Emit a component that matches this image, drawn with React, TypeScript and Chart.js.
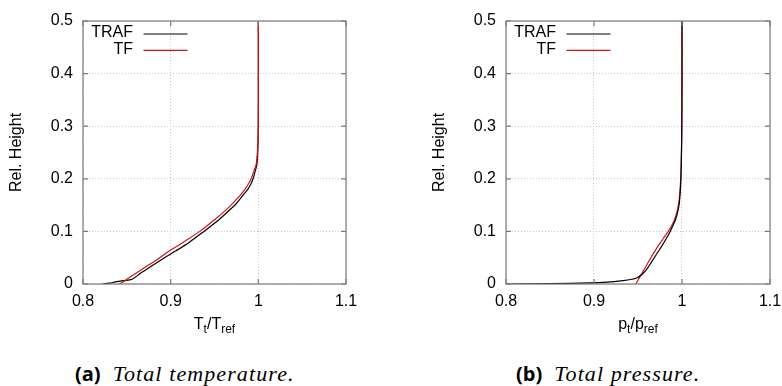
import React, { useEffect, useRef } from 'react';
import { Chart, registerables } from 'chart.js';

Chart.register(...registerables);

// ---------- data ----------
const xTicks = [0.8, 0.9, 1.0, 1.1];
const yTicks = [0, 0.1, 0.2, 0.3, 0.4, 0.5];
const seriesLabels = ['TRAF', 'TF'];
const seriesColors = ['#000000', '#d01414'];

// (a) total temperature
const tempTrafX = [0.8217, 0.830, 0.837, 0.846, 0.856, 0.866, 0.880, 0.893, 0.906, 0.921, 0.938, 0.955, 0.968, 0.975, 0.983, 0.988, 0.9915, 0.994, 0.9965, 0.9985, 0.9993, 0.9997, 0.9999, 1.0, 1.0];
const tempTrafY = [0, 0.0015, 0.004, 0.0065, 0.009, 0.021, 0.036, 0.050, 0.063, 0.079, 0.100, 0.122, 0.142, 0.153, 0.170, 0.180, 0.190, 0.200, 0.215, 0.229, 0.250, 0.273, 0.300, 0.350, 0.500];
const tempTfX = [0.8418, 0.850, 0.860, 0.873, 0.886, 0.8996, 0.915, 0.934, 0.950, 0.962, 0.970, 0.979, 0.985, 0.989, 0.992, 0.995, 0.9977, 0.9988, 0.9995, 1.0, 1.0];
const tempTfY = [0, 0.009, 0.020, 0.034, 0.048, 0.064, 0.080, 0.101, 0.122, 0.139, 0.152, 0.168, 0.181, 0.191, 0.201, 0.215, 0.229, 0.248, 0.270, 0.300, 0.500];

// (b) total pressure
const presTrafX = [0.8, 0.85, 0.8956, 0.915, 0.933, 0.943, 0.9485, 0.954, 0.9599, 0.9655, 0.9712, 0.977, 0.982, 0.9863, 0.990, 0.993, 0.995, 0.9968, 0.998, 0.9988, 0.9994, 0.9998, 1.0, 1.0];
const presTrafY = [0, 0.0008, 0.002, 0.0035, 0.0065, 0.009, 0.0114, 0.0175, 0.028, 0.042, 0.057, 0.072, 0.086, 0.099, 0.112, 0.124, 0.136, 0.152, 0.175, 0.200, 0.250, 0.300, 0.400, 0.500];
const presTfX = [0.9474, 0.9555, 0.9636, 0.972, 0.979, 0.9844, 0.989, 0.9925, 0.995, 0.9968, 0.998, 0.9988, 0.9994, 0.9998, 1.0, 1.0];
const presTfY = [0, 0.023, 0.047, 0.070, 0.087, 0.100, 0.113, 0.127, 0.142, 0.160, 0.185, 0.210, 0.250, 0.300, 0.400, 0.500];

const FONT = '"Liberation Sans", Arial, Helvetica, sans-serif';

const toPts = (xs: number[], ys: number[]) => xs.map((x, i) => ({ x, y: ys[i] }));

const framePlugin = {
  id: 'gnuFrame',
  afterDatasetsDraw(chart: any) {
    const { ctx, chartArea: a, scales } = chart;
    const xs = scales.x;
    const ys = scales.y;
    ctx.save();
    ctx.strokeStyle = '#7a7a7a';
    ctx.lineWidth = 1.2;
    ctx.strokeRect(a.left, a.top, a.right - a.left, a.bottom - a.top);
    const tl = 5;
    ctx.beginPath();
    xTicks.forEach((v) => {
      const px = xs.getPixelForValue(v);
      ctx.moveTo(px, a.bottom);
      ctx.lineTo(px, a.bottom - tl);
      ctx.moveTo(px, a.top);
      ctx.lineTo(px, a.top + tl);
    });
    yTicks.forEach((v) => {
      const py = ys.getPixelForValue(v);
      ctx.moveTo(a.left, py);
      ctx.lineTo(a.left + tl, py);
      ctx.moveTo(a.right, py);
      ctx.lineTo(a.right - tl, py);
    });
    ctx.stroke();

    // legend (gnuplot style: right aligned text, sample line after)
    ctx.font = `16px ${FONT}`;
    ctx.textAlign = 'right';
    ctx.textBaseline = 'middle';
    chart.data.datasets.forEach((ds: any, i: number) => {
      const ty = a.top + 12 + i * 16.4;
      ctx.fillStyle = '#000';
      ctx.fillText(ds.label, a.left + 50, ty);
      ctx.strokeStyle = ds.borderColor;
      ctx.lineWidth = 1.1;
      ctx.beginPath();
      ctx.moveTo(a.left + 60.5, ty + 1);
      ctx.lineTo(a.left + 104.5, ty + 1);
      ctx.stroke();
    });
    ctx.restore();
  },
};

type PanelProps = {
  left: number;
  padRight: number;
  trafX: number[];
  trafY: number[];
  tfX: number[];
  tfY: number[];
  redOnTop: boolean;
};

const CW = 370;
const CH = 345;

function Panel({ left, padRight, trafX, trafY, tfX, tfY, redOnTop }: PanelProps) {
  const ref = useRef<HTMLCanvasElement | null>(null);
  useEffect(() => {
    if (!ref.current) return;
    const chart = new Chart(ref.current, {
      type: 'line',
      data: {
        datasets: [
          {
            label: seriesLabels[0],
            data: toPts(trafX, trafY),
            borderColor: seriesColors[0],
            borderWidth: 1.2,
            pointRadius: 0,
            tension: 0.3,
            fill: false,
            order: redOnTop ? 1 : 0,
          },
          {
            label: seriesLabels[1],
            data: toPts(tfX, tfY),
            borderColor: seriesColors[1],
            borderWidth: 1.2,
            pointRadius: 0,
            tension: 0.3,
            fill: false,
            order: redOnTop ? 0 : 1,
          },
        ],
      },
      options: {
        responsive: false,
        animation: false,
        devicePixelRatio: 1,
        layout: { padding: { top: 21, right: padRight, left: 0, bottom: 0 } },
        plugins: { legend: { display: false }, tooltip: { enabled: false } },
        scales: {
          x: {
            type: 'linear',
            min: 0.8,
            max: 1.1,
            afterBuildTicks: (s: any) => {
              s.ticks = xTicks.map((v) => ({ value: v }));
            },
            afterFit: (s: any) => {
              s.height = CH - 284;
            },
            grid: { color: '#c8c8c8', lineWidth: 1, drawTicks: false },
            border: { display: false, dash: [1, 2] },
            ticks: {
              color: '#000',
              padding: 8,
              font: { family: FONT, size: 16 },
              callback: (v: any) => String(Number(v)),
              maxRotation: 0,
              autoSkip: false,
            },
          },
          y: {
            type: 'linear',
            min: 0,
            max: 0.5,
            afterBuildTicks: (s: any) => {
              s.ticks = yTicks.map((v) => ({ value: v }));
            },
            afterFit: (s: any) => {
              s.width = 83;
            },
            grid: { color: '#c8c8c8', lineWidth: 1, drawTicks: false },
            border: { display: false, dash: [1, 2] },
            ticks: {
              color: '#000',
              padding: 10,
              font: { family: FONT, size: 16 },
              callback: (v: any) => String(Number(v)),
              autoSkip: false,
            },
            title: {
              display: true,
              text: 'Rel. Height',
              color: '#000',
              font: { family: FONT, size: 16 },
              padding: { top: 7, bottom: 0 },
            },
          },
        },
      },
      plugins: [framePlugin],
    });
    return () => chart.destroy();
  }, []);
  return (
    <canvas
      ref={ref}
      width={CW}
      height={CH}
      style={{ position: 'absolute', left, top: 0, width: CW, height: CH }}
    />
  );
}

const subStyle: React.CSSProperties = { fontSize: 12, verticalAlign: -4, lineHeight: 0 };

function AxisTitle({ cx, main, sub, main2, sub2 }: { cx: number; main: string; sub: string; main2: string; sub2: string }) {
  return (
    <div
      style={{
        position: 'absolute',
        left: cx - 100,
        width: 200,
        top: 316,
        textAlign: 'center',
        fontFamily: FONT,
        fontSize: 16,
        lineHeight: '16px',
        color: '#000',
        whiteSpace: 'nowrap',
      }}
    >
      {main}
      <sub style={subStyle}>{sub}</sub>/{main2}
      <sub style={subStyle}>{sub2}</sub>
    </div>
  );
}

function Caption({ x, tag, text }: { x: number; tag: string; text: string }) {
  return (
    <div
      style={{
        position: 'absolute',
        left: x,
        top: 363,
        whiteSpace: 'nowrap',
        color: '#000',
        lineHeight: '22px',
      }}
    >
      <span style={{ fontFamily: '"Open Sans", "Noto Sans", sans-serif', fontWeight: 700, fontSize: 20 }}>{tag}</span>
      <span
        style={{
          fontFamily: '"Liberation Serif", "DejaVu Serif", serif',
          fontStyle: 'italic',
          fontSize: 22,
          letterSpacing: 1.1,
          marginLeft: 12,
        }}
      >
        {text}
      </span>
    </div>
  );
}

export default function App() {
  return (
    <div style={{ position: 'absolute', left: 0, top: 0, width: 782, height: 386, background: '#fff', overflow: 'hidden' }}>
      <Panel left={0} padRight={24} trafX={tempTrafX} trafY={tempTrafY} tfX={tempTfX} tfY={tempTfY} redOnTop={true} />
      <Panel left={423} padRight={23} trafX={presTrafX} trafY={presTrafY} tfX={presTfX} tfY={presTfY} redOnTop={false} />
      <AxisTitle cx={214.5} main="T" sub="t" main2="T" sub2="ref" />
      <AxisTitle cx={638} main="p" sub="t" main2="p" sub2="ref" />
      <Caption x={75} tag="(a)" text="Total temperature." />
      <Caption x={516} tag="(b)" text="Total pressure." />
    </div>
  );
}
